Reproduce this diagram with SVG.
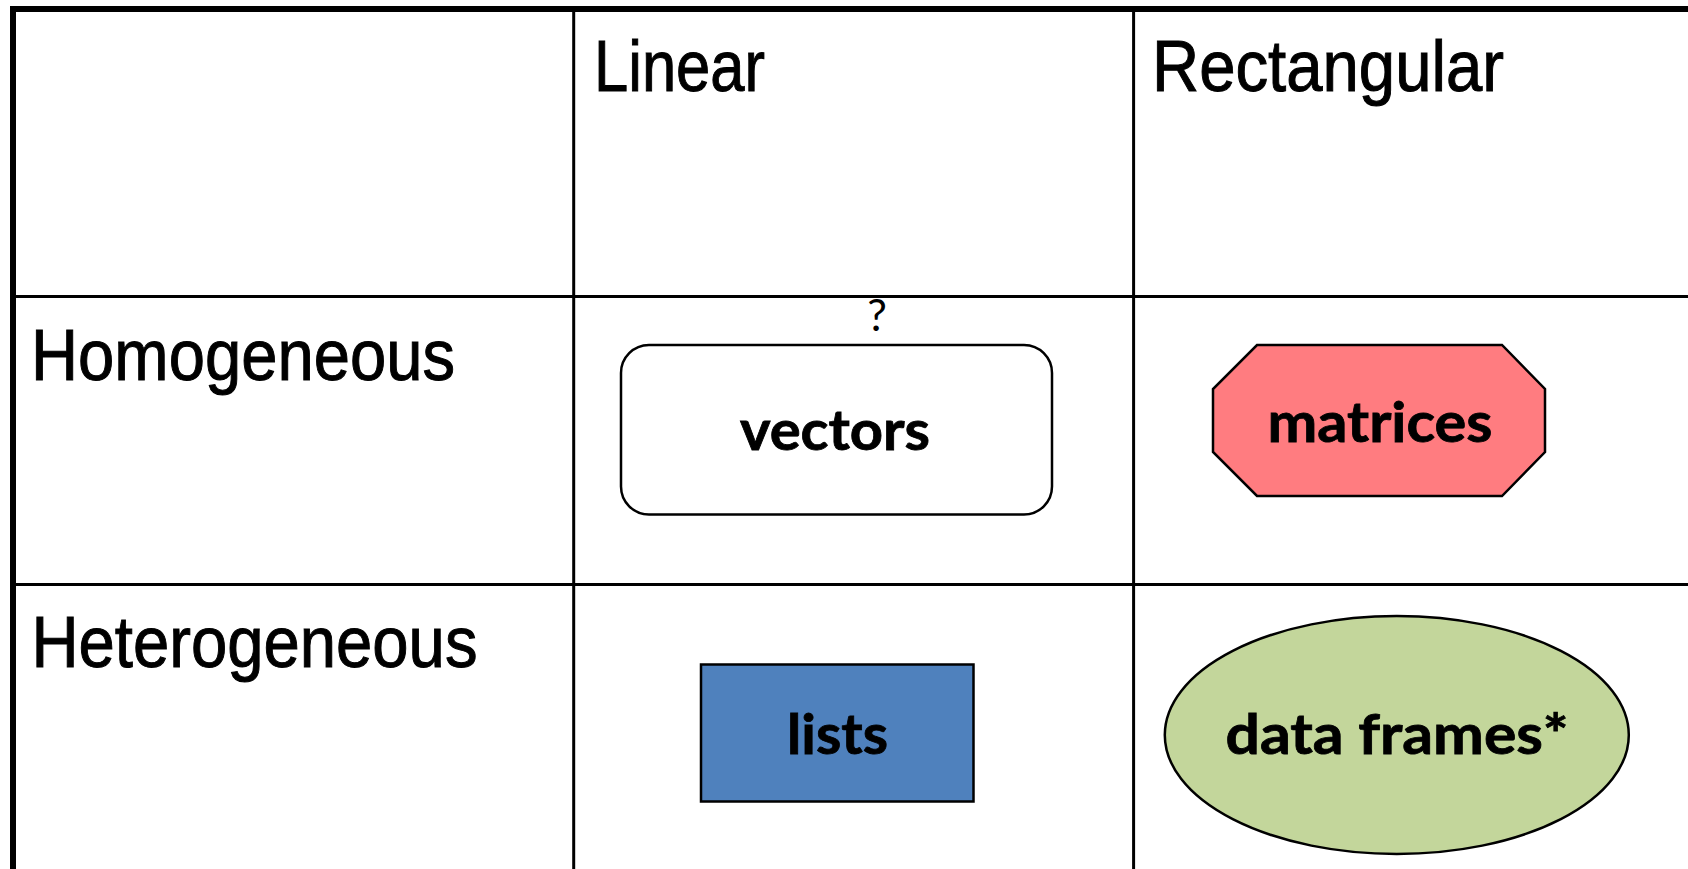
<svg xmlns="http://www.w3.org/2000/svg" width="1688" height="869" viewBox="0 0 1688 869">
  <style>
    .grid { stroke: #000; stroke-width: 3; fill: none; }
    .frame { stroke: #000; stroke-width: 6; fill: none; }
    .head { font-family: "Liberation Sans Narrow", "Liberation Sans", Arial, sans-serif; font-size: 73px; fill: #000; stroke: #000; stroke-width: 1; }
    .lbl { font-family: Lato, "Open Sans", "Liberation Sans", sans-serif; font-weight: 700; font-size: 56px; fill: #000; stroke: #000; stroke-width: 0.8; text-anchor: middle; }
    .shape { stroke: #000; stroke-width: 2.5; }
  </style>
  <rect width="1688" height="869" fill="#fff"/>
  <g id="grid">
    <line class="grid" x1="573.7" y1="9" x2="573.7" y2="869"/>
    <line class="grid" x1="1133.6" y1="9" x2="1133.6" y2="869"/>
    <line class="grid" x1="13" y1="296.5" x2="1688" y2="296.5"/>
    <line class="grid" x1="13" y1="584.5" x2="1688" y2="584.5"/>
    <line class="frame" x1="10" y1="9" x2="1688" y2="9"/>
    <line class="frame" x1="13" y1="6" x2="13" y2="869"/>
  </g>
  <g id="headers">
    <text class="head" x="594" y="91" textLength="171" lengthAdjust="spacingAndGlyphs">Linear</text>
    <text class="head" x="1152" y="91" textLength="352" lengthAdjust="spacingAndGlyphs">Rectangular</text>
    <text class="head" x="31" y="380" textLength="424" lengthAdjust="spacingAndGlyphs">Homogeneous</text>
    <text class="head" x="31.5" y="667" textLength="446" lengthAdjust="spacingAndGlyphs">Heterogeneous</text>
  </g>
  <g id="vectors">
    <text x="877" y="331" font-family="Lato, 'Open Sans', 'Liberation Sans', sans-serif" font-size="44" text-anchor="middle" fill="#000">?</text>
    <rect class="shape" x="621" y="345" width="431" height="169.5" rx="28" ry="28" fill="#fff"/>
    <text class="lbl" x="835" y="450" textLength="190" lengthAdjust="spacingAndGlyphs">vectors</text>
  </g>
  <g id="matrices">
    <polygon class="shape" points="1257,345 1502,345 1545,389 1545,452 1502,496 1257,496 1213,452 1213,389" fill="#ff7c80"/>
    <text class="lbl" x="1380" y="441.5" textLength="225" lengthAdjust="spacingAndGlyphs">matrices</text>
  </g>
  <g id="lists">
    <rect class="shape" x="701" y="664.5" width="272.5" height="137" fill="#4f81bd"/>
    <text class="lbl" x="837.5" y="753.5" textLength="101" lengthAdjust="spacingAndGlyphs">lists</text>
  </g>
  <g id="dataframes">
    <ellipse class="shape" cx="1396.8" cy="735" rx="232" ry="119" fill="#c3d69b"/>
    <text class="lbl" x="1397" y="754" textLength="343" lengthAdjust="spacingAndGlyphs">data frames*</text>
  </g>
  <g id="connectors"></g>
</svg>
